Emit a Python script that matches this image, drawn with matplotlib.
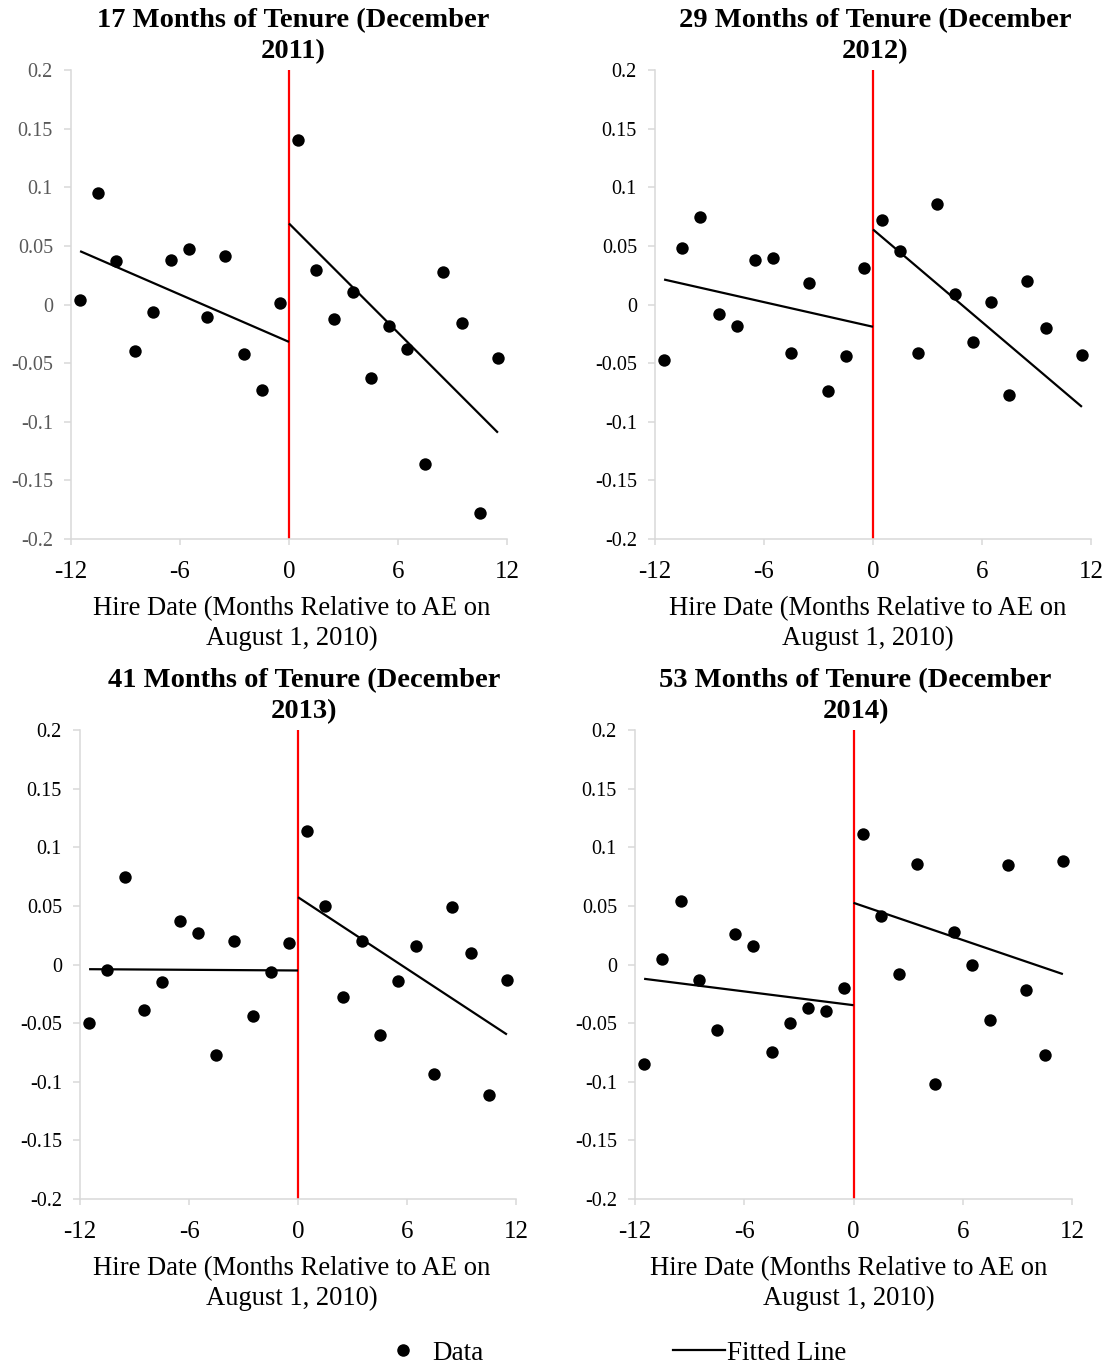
import numpy as np
import matplotlib
matplotlib.use("Agg")
import matplotlib.pyplot as plt
from matplotlib.lines import Line2D

plt.rcParams['font.family'] = ['Liberation Serif', 'DejaVu Serif']

# ---------------- data ----------------
months = [-11.5, -10.5, -9.5, -8.5, -7.5, -6.5, -5.5, -4.5, -3.5, -2.5, -1.5, -0.5,
          0.5, 1.5, 2.5, 3.5, 4.5, 5.5, 6.5, 7.5, 8.5, 9.5, 10.5, 11.5]

titles = ["17 Months of Tenure (December\n2011)",
          "29 Months of Tenure (December\n2012)",
          "41 Months of Tenure (December\n2013)",
          "53 Months of Tenure (December\n2014)"]

y_dec2011 = [0.004, 0.095, 0.037, -0.040, -0.006, 0.038, 0.047, -0.011, 0.041, -0.042, -0.073, 0.001,
             0.140, 0.029, -0.012, 0.011, -0.063, -0.018, -0.038, -0.136, 0.028, -0.016, -0.178, -0.046]
y_dec2012 = [-0.047, 0.048, 0.075, -0.008, -0.018, 0.038, 0.040, -0.041, 0.018, -0.074, -0.044, 0.031,
             0.072, 0.046, -0.041, 0.086, 0.009, -0.032, 0.002, -0.077, 0.020, -0.020, float('nan'), -0.043]
y_dec2013 = [-0.050, -0.005, 0.075, -0.039, -0.015, 0.037, 0.027, -0.077, 0.020, -0.044, -0.006, 0.018,
             0.114, 0.050, -0.028, 0.020, -0.060, -0.014, 0.016, -0.093, 0.049, 0.010, -0.111, -0.013]
y_dec2014 = [-0.085, 0.005, 0.054, -0.013, -0.056, 0.026, 0.016, -0.075, -0.050, -0.037, -0.040, -0.020,
             0.111, 0.041, -0.008, 0.086, -0.102, 0.028, 0.000, -0.047, 0.085, -0.022, -0.077, 0.088]

# fitted line values: [left start (x=-11.5), left end (x=0), right start (x=0), right end (x=11.5)]
fit_dec2011 = [0.0455, -0.0319, 0.0691, -0.1093]
fit_dec2012 = [0.0213, -0.0190, 0.0640, -0.0873]
fit_dec2013 = [-0.0040, -0.0051, 0.0574, -0.0597]
fit_dec2014 = [-0.0122, -0.0347, 0.0526, -0.0082]

fit_x_left = [-11.5, 0]
fit_x_right = [0, 11.5]

xticks = [-12, -6, 0, 6, 12]
xtick_labels = ["-12", "-6", "0", "6", "12"]
yticks = [0.2, 0.15, 0.1, 0.05, 0, -0.05, -0.1, -0.15, -0.2]
ytick_labels = ["0.2", "0.15", "0.1", "0.05", "0", "-0.05", "-0.1", "-0.15", "-0.2"]
xlabel = "Hire Date (Months Relative to AE on\nAugust 1, 2010)"
legend_labels = ["Data", "Fitted Line"]

series = [y_dec2011, y_dec2012, y_dec2013, y_dec2014]
fits = [fit_dec2011, fit_dec2012, fit_dec2013, fit_dec2014]

# ---------------- layout ----------------
W, H = 1108, 1369
fig = plt.figure(figsize=(W / 100, H / 100), dpi=100)
fig.patch.set_facecolor('white')

# axes boxes in pixels: left, right, top, bottom
boxes = [(71, 507, 70, 539), (655, 1091, 70, 539),
         (80, 516, 730, 1199), (635, 1072, 730, 1199)]
ytick_colors = ['#595959', 'black', 'black', 'black']
label_shift = [3, -5, -6, -5]
title_shift = [4, 2, 6, 2]
GRAY = '#d9d9d9'

for i, (l, r, t, b) in enumerate(boxes):
    ax = fig.add_axes([l / W, 1 - b / H, (r - l) / W, (b - t) / H])
    ax.set_xlim(-12, 12)
    ax.set_ylim(-0.2, 0.2)
    for s in ['top', 'right']:
        ax.spines[s].set_visible(False)
    for s in ['left', 'bottom']:
        ax.spines[s].set_color(GRAY)
        ax.spines[s].set_linewidth(1.1)
    ax.set_xticks(xticks)
    ax.set_xticklabels(xtick_labels)
    ax.set_yticks(yticks)
    ax.set_yticklabels(ytick_labels)
    ax.tick_params(axis='x', direction='out', length=4.5, width=1.1, color=GRAY,
                   labelsize=18, pad=11, labelcolor='black')
    ax.tick_params(axis='y', direction='out', length=5, width=1.1, color=GRAY,
                   labelsize=14.5, pad=8, labelcolor=ytick_colors[i])

    ax.axvline(0, color='#ff0000', lw=1.6, zorder=2)
    f = fits[i]
    ax.plot(fit_x_left, f[0:2], color='black', lw=1.6, zorder=3, solid_capstyle='butt')
    ax.plot(fit_x_right, f[2:4], color='black', lw=1.6, zorder=3, solid_capstyle='butt')
    ax.scatter(months, series[i], s=80, color='black', zorder=4, linewidths=0, clip_on=False)

    cx = (l + r) / 2
    fig.text((cx + title_shift[i]) / W, 1 - (t - 62) / H, titles[i], ha='center', va='top',
             fontsize=20.5, fontweight='bold', linespacing=1.3)
    fig.text((cx + label_shift[i]) / W, 1 - (b + 57) / H, xlabel, ha='center', va='top',
             fontsize=19.2, linespacing=1.27)

handles = [Line2D([], [], marker='o', color='black', linestyle='none', markersize=8),
           Line2D([], [], color='black', lw=1.6)]
fig.legend(handles, legend_labels, loc='center', bbox_to_anchor=(612 / W, 1 - 1353 / H),
           ncol=2, frameon=False, fontsize=19.5, handlelength=1.92, handletextpad=0.1,
           columnspacing=7.0, borderpad=0.2)

fig.savefig('out.png', dpi=100, facecolor='white')
